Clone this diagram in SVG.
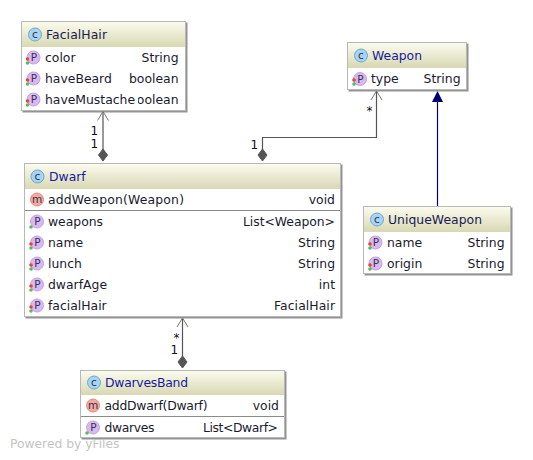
<svg xmlns="http://www.w3.org/2000/svg" width="533" height="460" viewBox="0 0 533 460">
<style>
text{font-family:"DejaVu Sans",sans-serif;font-size:12.400px;fill:#1a1a2e}
.box{fill:#fff;stroke:#b8b8b8;stroke-width:1;filter:url(#sh)}
.hd{fill:url(#hg)}
.sep{stroke:#8a8a8a;stroke-width:1}
.t{fill:#1a1a9c}
.u{fill:#1a1a50}
.r{text-anchor:end}
.cc{fill:#a6d4f2;stroke:#6ea8d0;stroke-width:1}
.cp{fill:#d9b8f2;stroke:#c4a0e4;stroke-width:1}
.cm{fill:#f5a8a0;stroke:#e08a80;stroke-width:1}
.ic{font-size:10.500px;text-anchor:middle;fill:#33334d}
.red{fill:#d84a3a}
.grn{fill:#5cb85c}
.ln{fill:none;stroke:#555;stroke-width:1.200}
.ah{fill:none;stroke:#777;stroke-width:1}
.dm{fill:#555;stroke:#555;stroke-width:1}
.lb{fill:#111;font-size:12px}
.wm{fill:#c4c4c4;font-size:12.300px}
</style>
<defs>
<linearGradient id="hg" x1="0" y1="0" x2="0" y2="1"><stop offset="0" stop-color="#fbfbee"/><stop offset="1" stop-color="#d8d8b4"/></linearGradient>
<filter id="sh" x="-5%" y="-5%" width="110%" height="110%"><feDropShadow dx="1.500" dy="1.500" stdDeviation="0.600" flood-color="#777" flood-opacity="0.800"/></filter>
<clipPath id="clipB"><rect x="138" y="90" width="45" height="20"/></clipPath>
</defs>

<g id="connectors">
<path class="ln" d="M103 112V150"/><path class="ah" d="M97.500 120.500L103 111.500L108.500 120.500"/><path class="dm" d="M103 149L107.500 155L103 161L98.500 155Z"/>
<path class="ln" d="M262.500 150V137.500H376.500V91"/><path class="ah" d="M371 100L376.500 91L382 100"/><path class="dm" d="M262.500 149L267 155L262.500 161L258 155Z"/>
<path d="M437.500 206V100" fill="none" stroke="#00006e" stroke-width="1.200"/><path d="M432 102L437.500 91L443 102Z" fill="#00006e"/>
<path class="ln" d="M182.500 319V357"/><path class="ah" d="M177 327L182.500 318L188 327"/><path class="dm" d="M182.500 356L187 362L182.500 368L178 362Z"/>
<text class="lb" x="90.500" y="135">1</text><text class="lb" x="90.500" y="147.500">1</text>
<text class="lb" x="366.500" y="114.500">*</text><text class="lb" x="250.500" y="149">1</text>
<text class="lb" x="173.500" y="341.500">*</text><text class="lb" x="170.500" y="353.500">1</text>
</g>

<g id="FacialHair">
<rect class="box" x="21.500" y="21.500" width="164" height="89"/>
<rect class="hd" x="22" y="22" width="163" height="25"/>
<circle class="cc" cx="35" cy="34.500" r="6.500"/><text class="ic" x="35" y="38">c</text>
<text class="u" x="46" y="39" textLength="61">FacialHair</text>
<circle class="cp" cx="33.500" cy="57.500" r="6.500"/><text class="ic" x="34" y="61">P</text><circle class="red" cx="27.500" cy="59" r="1.800"/><circle class="grn" cx="27.500" cy="63" r="1.800"/>
<text x="45" y="62">color</text><text class="r" x="178.500" y="62">String</text>
<circle class="cp" cx="33.500" cy="78.500" r="6.500"/><text class="ic" x="34" y="82">P</text><circle class="red" cx="27.500" cy="80" r="1.800"/><circle class="grn" cx="27.500" cy="84" r="1.800"/>
<text x="45" y="83">haveBeard</text><text class="r" x="178.500" y="83">boolean</text>
<circle class="cp" cx="33.500" cy="99.500" r="6.500"/><text class="ic" x="34" y="103">P</text><circle class="red" cx="27.500" cy="101" r="1.800"/><circle class="grn" cx="27.500" cy="105" r="1.800"/>
<text x="45" y="104" textLength="90">haveMustache</text>
<text class="r" x="178.500" y="104" clip-path="url(#clipB)">boolean</text>
</g>

<g id="Weapon">
<rect class="box" x="347.500" y="42.500" width="119" height="47"/>
<rect class="hd" x="348" y="43" width="118" height="25"/>
<circle class="cc" cx="361" cy="55.500" r="6.500"/><text class="ic" x="361" y="59">c</text>
<text class="t" x="372" y="60" textLength="50">Weapon</text>
<circle class="cp" cx="360" cy="79" r="6.500"/><text class="ic" x="360.500" y="83">P</text><circle class="red" cx="354" cy="80" r="1.800"/><circle class="grn" cx="354" cy="84" r="1.800"/>
<text x="371" y="83">type</text><text class="r" x="460.500" y="83">String</text>
</g>

<g id="Dwarf">
<rect class="box" x="24.500" y="163.500" width="316" height="153"/>
<rect class="hd" x="25" y="164" width="315" height="25"/>
<circle class="cc" cx="37.500" cy="176.500" r="6.500"/><text class="ic" x="37.500" y="180">c</text>
<text class="t" x="49" y="181">Dwarf</text>
<circle class="cm" cx="37" cy="199.500" r="6.500"/><text class="ic" x="37" y="203">m</text>
<text x="48" y="204" textLength="136">addWeapon(Weapon)</text><text class="r" x="335" y="204">void</text>
<line class="sep" x1="25" y1="210.500" x2="340" y2="210.500"/>
<circle class="cp" cx="37" cy="221.500" r="6.500"/><text class="ic" x="37.500" y="225">P</text><circle class="grn" cx="31" cy="227" r="1.800"/>
<text x="48" y="226" textLength="55">weapons</text><text class="r" x="335" y="226" textLength="92">List&lt;Weapon&gt;</text>
<circle class="cp" cx="37" cy="242.500" r="6.500"/><text class="ic" x="37.500" y="246">P</text><circle class="red" cx="31" cy="244" r="1.800"/><circle class="grn" cx="31" cy="248" r="1.800"/>
<text x="48" y="247">name</text><text class="r" x="335" y="247">String</text>
<circle class="cp" cx="37" cy="263.500" r="6.500"/><text class="ic" x="37.500" y="267">P</text><circle class="red" cx="31" cy="265" r="1.800"/><circle class="grn" cx="31" cy="269" r="1.800"/>
<text x="48" y="268">lunch</text><text class="r" x="335" y="268">String</text>
<circle class="cp" cx="37" cy="284.500" r="6.500"/><text class="ic" x="37.500" y="288">P</text><circle class="red" cx="31" cy="286" r="1.800"/><circle class="grn" cx="31" cy="290" r="1.800"/>
<text x="48" y="289">dwarfAge</text><text class="r" x="335" y="289">int</text>
<circle class="cp" cx="37" cy="305.500" r="6.500"/><text class="ic" x="37.500" y="309">P</text><circle class="red" cx="31" cy="307" r="1.800"/><circle class="grn" cx="31" cy="311" r="1.800"/>
<text x="48" y="310">facialHair</text><text class="r" x="335" y="310" textLength="61">FacialHair</text>
</g>

<g id="UniqueWeapon">
<rect class="box" x="363.500" y="206.500" width="147" height="67"/>
<rect class="hd" x="364" y="207" width="146" height="25"/>
<circle class="cc" cx="377" cy="219.500" r="6.500"/><text class="ic" x="377" y="223">c</text>
<text class="u" x="388" y="224" textLength="94">UniqueWeapon</text>
<circle class="cp" cx="375.500" cy="242.500" r="6.500"/><text class="ic" x="376" y="246">P</text><circle class="red" cx="370" cy="244" r="1.800"/><circle class="grn" cx="370" cy="248" r="1.800"/>
<text x="387" y="247">name</text><text class="r" x="504.500" y="247">String</text>
<circle class="cp" cx="375.500" cy="263.500" r="6.500"/><text class="ic" x="376" y="267">P</text><circle class="red" cx="370" cy="265" r="1.800"/><circle class="grn" cx="370" cy="269" r="1.800"/>
<text x="387" y="268">origin</text><text class="r" x="504.500" y="268">String</text>
</g>

<g id="DwarvesBand">
<rect class="box" x="80.500" y="370.500" width="204" height="67"/>
<rect class="hd" x="81" y="371" width="203" height="24"/>
<circle class="cc" cx="94" cy="382.500" r="6.500"/><text class="ic" x="94" y="386">c</text>
<text class="t" x="105" y="387" textLength="83">DwarvesBand</text>
<circle class="cm" cx="93" cy="405.500" r="6.500"/><text class="ic" x="93" y="409">m</text>
<text x="104.500" y="410" textLength="103">addDwarf(Dwarf)</text><text class="r" x="279" y="410">void</text>
<line class="sep" x1="81" y1="416.500" x2="284" y2="416.500"/>
<circle class="cp" cx="93" cy="427.500" r="6.500"/><text class="ic" x="93.500" y="431">P</text><circle class="grn" cx="87" cy="433" r="1.800"/>
<text x="104.500" y="432" textLength="50">dwarves</text><text class="r" x="278" y="432" textLength="75">List&lt;Dwarf&gt;</text>
</g>

<text class="wm" x="10" y="448">Powered by yFiles</text>
</svg>
